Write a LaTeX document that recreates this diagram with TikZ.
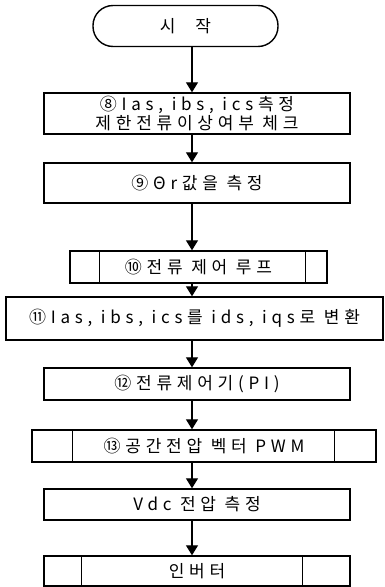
\documentclass[tikz,border=0pt]{standalone}
\usepackage{fontspec}
\setmainfont[LetterSpace=28]{Noto Sans CJK KR}
\usetikzlibrary{arrows.meta}
\tikzset{
  x=1pt, y=-1pt,
  boxst/.style={draw, line width=1.4pt, inner sep=0pt, font=\fontsize{17}{18.5}\selectfont, align=center},
  arr/.style={line width=1.2pt, -{Triangle[width=12pt,length=10pt]}},
  inner/.style={line width=1.4pt}
}
\begin{document}
\begin{tikzpicture}
\clip (0,0) rectangle (385,587);
\fill[white] (0,0) rectangle (385,587);
\coordinate (ax) at (192,0);
\node[boxst, minimum width=185pt, minimum height=41pt, rounded corners=20pt] (start) at (185.5,26) {시\hspace{20pt}작};
\node[boxst, minimum width=306pt, minimum height=41pt] (b8) at (197,113.5) {⑧Ias, ibs, ics측정\\제한전류이상여부 체크};
\node[boxst, minimum width=306pt, minimum height=40pt] (b9) at (197,183) {⑨Θr값을 측정};
\node[boxst, minimum width=257pt, minimum height=32pt] (b10) at (198.5,267) {⑩전류 제어 루프};
\node[boxst, minimum width=377pt, minimum height=43pt] (b11) at (194.5,318.5) {⑪Ias, ibs, ics를 ids, iqs로 변환};
\node[boxst, minimum width=306pt, minimum height=32pt] (b12) at (197,384) {⑫전류제어기(PI)};
\node[boxst, minimum width=344pt, minimum height=32pt] (b13) at (204,446) {⑬공간전압 벡터 PWM};
\node[boxst, minimum width=306pt, minimum height=31pt] (b14) at (197,504.5) {Vdc 전압 측정};
\node[boxst, minimum width=306pt, minimum height=30pt] (b15) at (197,571) {인버터};
% predefined-process inner lines
\draw[inner] ([xshift=30pt]b10.north west) -- ([xshift=30pt]b10.south west);
\draw[inner] ([xshift=-22pt]b10.north east) -- ([xshift=-22pt]b10.south east);
\draw[inner] ([xshift=41pt]b13.north west) -- ([xshift=41pt]b13.south west);
\draw[inner] ([xshift=-42pt]b13.north east) -- ([xshift=-42pt]b13.south east);
\draw[inner] ([xshift=38pt]b15.north west) -- ([xshift=38pt]b15.south west);
\draw[inner] ([xshift=-48pt]b15.north east) -- ([xshift=-48pt]b15.south east);
% arrows
\draw[arr] (start.south -| ax) -- (b8.north -| ax);
\draw[arr] (b8.south -| ax) -- (b9.north -| ax);
\draw[arr] (b9.south -| ax) -- (b10.north -| ax);
\draw[arr] (b10.south -| ax) -- (b11.north -| ax);
\draw[arr] (b11.south -| ax) -- (b12.north -| ax);
\draw[arr] (b12.south -| ax) -- (b13.north -| ax);
\draw[arr] (b13.south -| ax) -- (b14.north -| ax);
\draw[arr] (b14.south -| ax) -- (b15.north -| ax);
\end{tikzpicture}
\end{document}
